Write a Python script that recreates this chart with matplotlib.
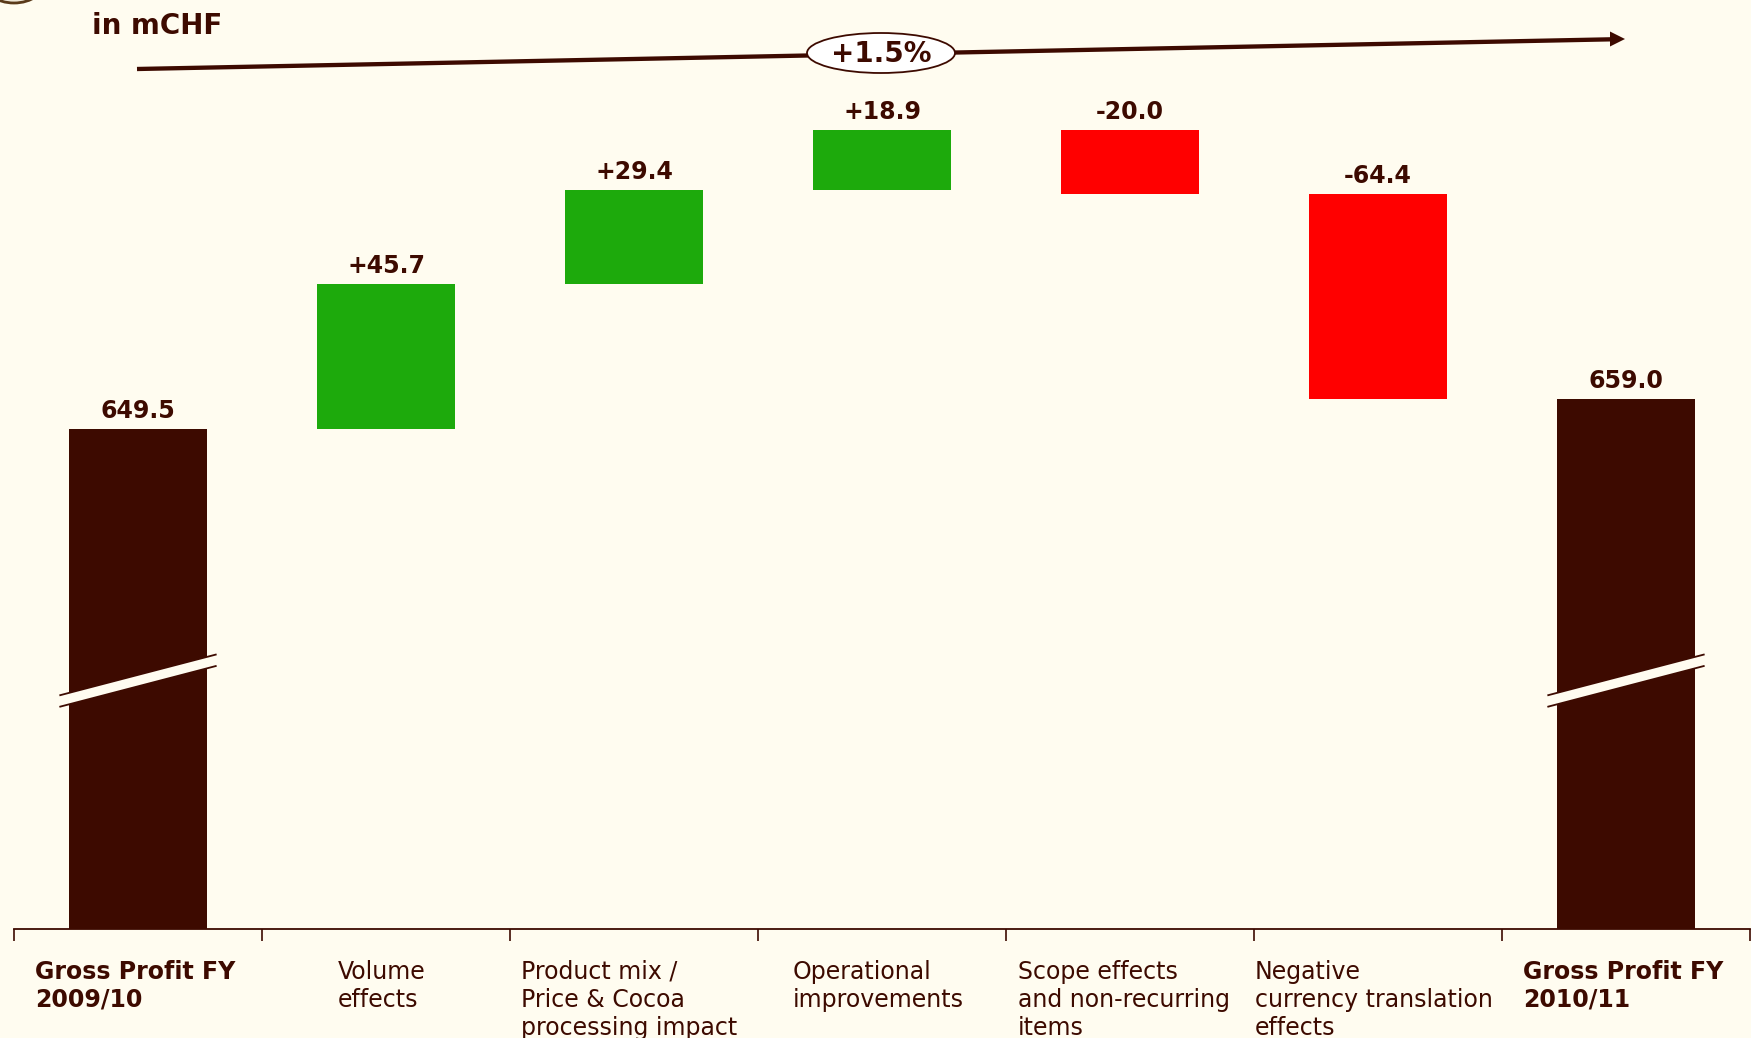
import matplotlib.pyplot as plt
import matplotlib.transforms as mtransforms
from matplotlib.patches import Ellipse, Polygon

# data
categories = ['Gross Profit FY\n2009/10', 'Volume\neffects',
              'Product mix /\nPrice & Cocoa\nprocessing impact',
              'Operational\nimprovements',
              'Scope effects\nand non-recurring\nitems',
              'Negative\ncurrency translation\neffects',
              'Gross Profit FY\n2010/11']
values = [649.5, 45.7, 29.4, 18.9, -20.0, -64.4, 659.0]
is_total = [True, False, False, False, False, False, True]
growth_label = '+1.5%'
unit_label = 'in mCHF'

# layout bits
label_dx = [-0.415, -0.194, -0.456, -0.359, -0.452, -0.496, -0.415]
ymin, ymax = 492.3, 784.4
bg = '#FFFCF0'
dark = '#3D0A00'
green = '#1DAA0C'
red = '#FF0000'

fig = plt.figure(figsize=(17.51, 10.38), dpi=100, facecolor=bg)
ax = fig.add_axes([14 / 1751, 109 / 1038, 1736 / 1751, 929 / 1038])
ax.set_facecolor(bg)
ax.set_xlim(-0.5, len(values) - 0.5)
ax.set_ylim(ymin, ymax)

running = 0
for i, v in enumerate(values):
    if is_total[i]:
        bottom, height, col = ymin, v - ymin, dark
        running = v
        top = v
        txt = f'{v:.1f}'
    else:
        bottom = running if v > 0 else running + v
        height = abs(v)
        col = green if v > 0 else red
        running += v
        top = bottom + height
        txt = f'{v:+.1f}'
    ax.bar(i, height, bottom=bottom, width=0.553, color=col, zorder=2)
    ax.annotate(txt, (i, top), xytext=(0, 6), textcoords='offset pixels',
                ha='center', va='bottom', fontsize=17, fontweight='bold',
                color=dark)

    # axis break marks on the total bars
    if is_total[i]:
        yc, half, hw, thick = 570.4, 0.317, 6.45, 1.8
        band = Polygon([(i - half, yc - hw + thick), (i + half, yc + hw + thick),
                        (i + half, yc + hw - thick), (i - half, yc - hw - thick)],
                       closed=True, facecolor=bg, edgecolor='none', zorder=3)
        ax.add_patch(band)
        for s in (thick, -thick):
            ax.plot([i - half, i + half], [yc - hw + s, yc + hw + s],
                    color=dark, lw=1.3, zorder=4, solid_capstyle='butt')

# category labels under the axis
trans = mtransforms.blended_transform_factory(ax.transData, ax.transAxes)
for i, lab in enumerate(categories):
    ax.text(i + label_dx[i], -0.033, lab, transform=trans, ha='left', va='top',
            fontsize=17, color=dark, linespacing=1.22,
            fontweight='bold' if is_total[i] else 'normal')

for side in ('left', 'right', 'top'):
    ax.spines[side].set_visible(False)
ax.spines['bottom'].set_color(dark)
ax.spines['bottom'].set_linewidth(1.3)
ax.set_yticks([])
ax.set_xticks([k - 0.5 for k in range(len(values) + 1)])
ax.set_xticklabels([])
ax.tick_params(axis='x', direction='out', length=8.6, width=1.2, color=dark)

# overlay in pixel coords for the growth arrow and unit label
ov = fig.add_axes([0, 0, 1, 1])
ov.set_xlim(0, 1751)
ov.set_ylim(1038, 0)
ov.axis('off')
ov.patch.set_alpha(0)

ov.plot([137, 1612], [69, 39.3], color=dark, lw=3.1, solid_capstyle='butt')
ov.add_patch(Polygon([(1625, 39), (1610, 31.5), (1610, 46.5)], closed=True,
                     facecolor=dark, edgecolor='none'))
ov.add_patch(Ellipse((881, 53), 148, 40, facecolor='white', edgecolor=dark,
                     lw=1.3, zorder=5))
ov.text(881, 54, growth_label, ha='center', va='center', fontsize=20,
        fontweight='bold', color=dark, zorder=6)
ov.text(92, 34, unit_label, ha='left', va='baseline', fontsize=20,
        fontweight='bold', color=dark)

# logo remnant in the top-left corner
ov.add_patch(Ellipse((14, -20), 64, 46, facecolor='#EFE8D8', edgecolor='#5A3A1A',
                     lw=2))

fig.savefig('out.png', dpi=100, facecolor=bg)
